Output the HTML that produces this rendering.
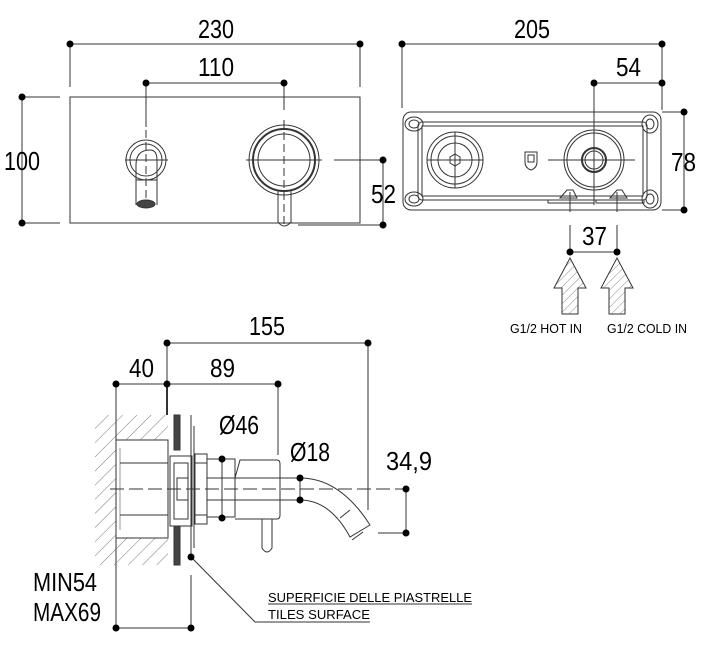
<!DOCTYPE html>
<html><head><meta charset="utf-8"><style>
html,body{margin:0;padding:0;background:#fff;}
svg{display:block;}
text{font-family:"Liberation Sans",sans-serif;fill:#000;}
.d{font-size:26px;}
.s{font-size:13px;}
</style></head><body>
<svg width="702" height="665" viewBox="0 0 702 665" xmlns="http://www.w3.org/2000/svg">
<defs>
<pattern id="h" width="10" height="10" patternUnits="userSpaceOnUse" patternTransform="rotate(45)">
<line x1="0" y1="0" x2="0" y2="10" stroke="#555" stroke-width="0.8"/></pattern>
<pattern id="h2" width="6" height="6" patternUnits="userSpaceOnUse" patternTransform="rotate(45)">
<line x1="0" y1="0" x2="0" y2="6" stroke="#555" stroke-width="0.7"/></pattern>
</defs>
<g stroke="#333" stroke-width="1" fill="none">
<line x1="70" y1="44" x2="360" y2="44"/><line x1="70" y1="44" x2="70" y2="87"/><line x1="360" y1="44" x2="360" y2="87"/>
<line x1="146" y1="83" x2="284" y2="83"/><line x1="146" y1="83" x2="146" y2="127"/><line x1="284" y1="83" x2="284" y2="110"/>
<rect x="70" y="97" width="290" height="126"/>
<line x1="22" y1="97" x2="22" y2="223"/><line x1="22" y1="97" x2="60" y2="97"/><line x1="22" y1="223" x2="60" y2="223"/>
<circle cx="146" cy="160" r="20"/><circle cx="146" cy="160" r="16"/>
<path d="M136 205 V165 Q136 150 150 150 Q157 150 157 160 V205"/>
<line x1="136" y1="180" x2="157" y2="180"/>
<line x1="125" y1="160" x2="168" y2="160"/><line x1="146" y1="130" x2="146" y2="200" stroke-dasharray="8 4"/>
<ellipse cx="146" cy="204" rx="9" ry="4" fill="#444"/>
<circle cx="284" cy="160" r="35"/><circle cx="284" cy="160" r="31" stroke-width="2"/><circle cx="284" cy="160" r="26"/>
<line x1="246" y1="160" x2="322" y2="160"/><line x1="284" y1="120" x2="284" y2="228" stroke-dasharray="8 4"/>
<path d="M278 190 V222 Q284 230 291 222 V190"/>
<line x1="334" y1="160" x2="383" y2="160"/><line x1="298" y1="225" x2="383" y2="225"/><line x1="383" y1="160" x2="383" y2="225"/>
<line x1="402" y1="44" x2="662" y2="44"/><line x1="402" y1="44" x2="402" y2="108"/><line x1="662" y1="44" x2="662" y2="110"/>
<line x1="594" y1="83" x2="662" y2="83"/><line x1="594" y1="83" x2="594" y2="205"/>
<rect x="403" y="112" width="258" height="98" rx="8"/>
<rect x="418" y="122" width="229" height="78" rx="4"/>
<rect x="422" y="126" width="221" height="70"/>
<ellipse cx="414" cy="124" rx="9" ry="7"/><ellipse cx="414" cy="124" rx="5" ry="4"/>
<ellipse cx="414" cy="199" rx="9" ry="7"/><ellipse cx="414" cy="199" rx="5" ry="4"/>
<ellipse cx="650" cy="124" rx="8" ry="9"/><ellipse cx="650" cy="124" rx="4" ry="5"/>
<ellipse cx="650" cy="199" rx="8" ry="9"/><ellipse cx="650" cy="199" rx="4" ry="5"/>
<circle cx="455" cy="160" r="28"/><circle cx="455" cy="160" r="24"/><circle cx="455" cy="160" r="17"/>
<path d="M455 154 l5 3 v6 l-5 3 l-5 -3 v-6z"/><line x1="427" y1="160" x2="483" y2="160"/><line x1="455" y1="132" x2="455" y2="188"/>
<circle cx="594" cy="160" r="30"/><circle cx="594" cy="160" r="27"/><circle cx="594" cy="160" r="12" stroke-width="2"/><circle cx="594" cy="160" r="9"/>
<line x1="548" y1="160" x2="635" y2="160"/>
<path d="M525 152 h12 v10 q0 6 -6 8 q-6 -2 -6 -8z"/><rect x="528" y="155" width="6" height="7"/>
<path d="M560 198 l7 -8 h6 l4 8z"/><path d="M610 198 l7 -8 h5 l5 8z"/>
<rect x="548" y="200" width="46" height="3"/><rect x="596" y="200" width="48" height="3"/>
<line x1="684" y1="112" x2="684" y2="210"/><line x1="662" y1="112" x2="684" y2="112"/><line x1="662" y1="210" x2="684" y2="210"/>
<line x1="570" y1="192" x2="570" y2="212"/><line x1="617" y1="192" x2="617" y2="212"/>
<line x1="570" y1="225" x2="570" y2="252"/><line x1="617" y1="225" x2="617" y2="252"/><line x1="570" y1="252" x2="617" y2="252"/>
<path d="M570 258 L586 288 H578 V314 H562 V288 H554 Z" fill="url(#h2)"/>
<path d="M617 258 L633 288 H625 V314 H609 V288 H601 Z" fill="url(#h2)"/>
<line x1="167" y1="343" x2="365" y2="343"/><line x1="167" y1="343" x2="167" y2="384"/><line x1="365" y1="343" x2="368" y2="343"/><line x1="368" y1="343" x2="368" y2="510"/>
<line x1="116" y1="384" x2="278" y2="384"/><line x1="116" y1="384" x2="116" y2="630"/><line x1="167" y1="384" x2="167" y2="415" stroke-width="2"/><line x1="278" y1="384" x2="278" y2="455"/>
<path d="M95 415 H168 V565 H95 Z" fill="url(#h)" stroke="none"/>
<rect x="116" y="440" width="52" height="98" fill="#fff"/>
<line x1="120" y1="448" x2="120" y2="530" stroke="#999"/><line x1="120" y1="463" x2="168" y2="463"/><line x1="120" y1="515" x2="168" y2="515"/>
<rect x="174" y="415" width="6" height="35" fill="#444"/><rect x="174" y="525" width="6" height="40" fill="#444"/>
<rect x="170" y="456" width="22" height="70" fill="#fff"/>
<rect x="174" y="463" width="14" height="56"/><rect x="177" y="478" width="11" height="22"/>
<line x1="191" y1="415" x2="191" y2="557"/><line x1="194" y1="426" x2="194" y2="548"/>
<rect x="195" y="454" width="12" height="70" fill="#fff"/><rect x="195" y="463" width="12" height="52"/>
<line x1="207" y1="478" x2="300" y2="478"/><line x1="207" y1="500" x2="300" y2="500"/>
<rect x="207" y="459" width="28" height="58"/>
<path d="M235 478 L240 460 H277 Q280 460 280 464 V515 Q280 519 277 519 H235"/>
<path d="M262 519 V548 Q267 556 272 548 V519"/>
<path d="M300 478 Q340 478 370 525 L350 537 Q330 500 300 500"/>
<path d="M350 510 L340 518 M363 532 L352 540" />
<line x1="110" y1="489" x2="405" y2="489" stroke-dasharray="14 5"/>
<line x1="222" y1="459" x2="222" y2="518"/>
<line x1="300" y1="478" x2="300" y2="500"/>
<line x1="378" y1="533" x2="406" y2="533"/><line x1="406" y1="489" x2="406" y2="533"/>
<line x1="191" y1="575" x2="191" y2="628"/><line x1="116" y1="628" x2="191" y2="628"/>
<path d="M191 557 L255 622 H370"/><line x1="268" y1="604" x2="472" y2="604"/>
</g>
<g fill="#000">
<circle cx="70" cy="44" r="3.5"/><circle cx="360" cy="44" r="3.5"/><circle cx="146" cy="83" r="3.5"/><circle cx="284" cy="83" r="3.5"/>
<circle cx="22" cy="97" r="3.5"/><circle cx="22" cy="223" r="3.5"/><circle cx="383" cy="160" r="3.5"/><circle cx="383" cy="225" r="3.5"/>
<circle cx="402" cy="44" r="3.5"/><circle cx="662" cy="44" r="3.5"/><circle cx="594" cy="83" r="3.5"/><circle cx="662" cy="83" r="3.5"/>
<circle cx="684" cy="112" r="3.5"/><circle cx="684" cy="210" r="3.5"/><circle cx="570" cy="252" r="3.5"/><circle cx="617" cy="252" r="3.5"/>
<circle cx="167" cy="343" r="3.5"/><circle cx="368" cy="343" r="3.5"/><circle cx="116" cy="384" r="3.5"/><circle cx="167" cy="384" r="3.5"/><circle cx="278" cy="384" r="3.5"/>
<circle cx="222" cy="459" r="3.5"/><circle cx="222" cy="518" r="3.5"/><circle cx="300" cy="478" r="3.5"/><circle cx="300" cy="500" r="3.5"/>
<circle cx="406" cy="489" r="3.5"/><circle cx="406" cy="533" r="3.5"/><circle cx="191" cy="557" r="3.5"/>
<circle cx="116" cy="628" r="3.5"/><circle cx="191" cy="628" r="3.5"/>
</g>
<g class="d">
<text x="198" y="38" textLength="36" lengthAdjust="spacingAndGlyphs">230</text>
<text x="198" y="76" textLength="36" lengthAdjust="spacingAndGlyphs">110</text>
<text x="4" y="170" textLength="36" lengthAdjust="spacingAndGlyphs">100</text>
<text x="371" y="203" textLength="25" lengthAdjust="spacingAndGlyphs">52</text>
<text x="514" y="38" textLength="36" lengthAdjust="spacingAndGlyphs">205</text>
<text x="616" y="76" textLength="25" lengthAdjust="spacingAndGlyphs">54</text>
<text x="671" y="171" textLength="25" lengthAdjust="spacingAndGlyphs">78</text>
<text x="582" y="245" textLength="25" lengthAdjust="spacingAndGlyphs">37</text>
<text x="249" y="335" textLength="36" lengthAdjust="spacingAndGlyphs">155</text>
<text x="129" y="377" textLength="25" lengthAdjust="spacingAndGlyphs">40</text>
<text x="210" y="377" textLength="25" lengthAdjust="spacingAndGlyphs">89</text>
<text x="219" y="434" textLength="40" lengthAdjust="spacingAndGlyphs">Ø46</text>
<text x="290" y="461" textLength="40" lengthAdjust="spacingAndGlyphs">Ø18</text>
<text x="386" y="470" textLength="46" lengthAdjust="spacingAndGlyphs">34,9</text>
<text x="33" y="591" textLength="64" lengthAdjust="spacingAndGlyphs">MIN54</text>
<text x="33" y="621" textLength="68" lengthAdjust="spacingAndGlyphs">MAX69</text>
</g>
<g class="s">
<text x="510" y="333" textLength="72" lengthAdjust="spacingAndGlyphs">G1/2 HOT IN</text>
<text x="607" y="333" textLength="80" lengthAdjust="spacingAndGlyphs">G1/2 COLD IN</text>
<text x="268" y="602" textLength="204" lengthAdjust="spacingAndGlyphs">SUPERFICIE DELLE PIASTRELLE</text>
<text x="268" y="619" textLength="102" lengthAdjust="spacingAndGlyphs">TILES SURFACE</text>
</g>
</svg>
</body></html>
